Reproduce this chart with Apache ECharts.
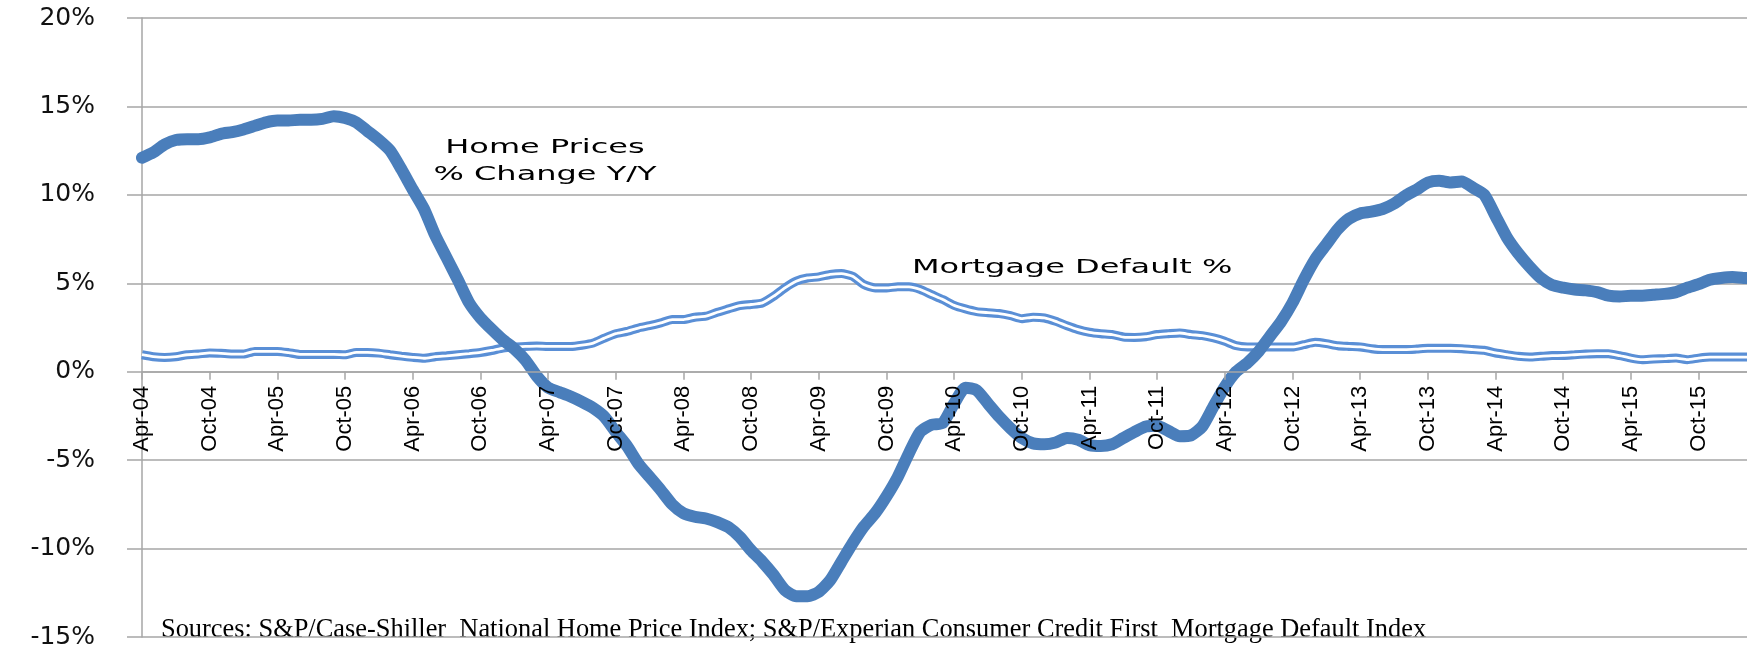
<!DOCTYPE html>
<html>
<head>
<meta charset="utf-8">
<script src="https://cdn.jsdelivr.net/npm/echarts@6/dist/echarts.min.js"></script>
<style>
  html, body { margin: 0; padding: 0; background: #fff; }
  #chart { width: 1747px; height: 647px; }
</style>
</head>
<body>
<div id="chart"></div>
<script>
// months Apr-04 .. Mar-16
const monthNames = ['Jan', 'Feb', 'Mar', 'Apr', 'May', 'Jun', 'Jul', 'Aug', 'Sep', 'Oct', 'Nov', 'Dec'];
const months = [];
for (let k = 0; k < 144; k++) {
  const mi = (3 + k) % 12;
  const yr = 4 + Math.floor((3 + k) / 12);
  months.push(monthNames[mi] + '-' + String(yr).padStart(2, '0'));
}

// Home prices, % change Y/Y
const homePrices = [
  12.1, 12.4, 12.85, 13.1, 13.15, 13.15, 13.25, 13.45, 13.55, 13.7,
  13.9, 14.1, 14.2, 14.2, 14.25, 14.25, 14.3, 14.45, 14.35, 14.1,
  13.6, 13.1, 12.5, 11.45, 10.3, 9.2, 7.7, 6.45, 5.2, 3.9,
  3.05, 2.4, 1.8, 1.3, 0.65, -0.25, -0.9, -1.15, -1.4, -1.7,
  -2.05, -2.55, -3.4, -4.2, -5.2, -5.95, -6.7, -7.5, -8.0, -8.2,
  -8.3, -8.5, -8.8, -9.35, -10.1, -10.75, -11.5, -12.35, -12.7, -12.7,
  -12.45, -11.8, -10.75, -9.7, -8.75, -8.0, -7.05, -5.95, -4.6, -3.4,
  -3.0, -2.9, -1.8, -0.9, -1.05, -1.8, -2.55, -3.2, -3.75, -4.05,
  -4.1, -4.0, -3.75, -3.85, -4.15, -4.2, -4.1, -3.75, -3.4, -3.1,
  -3.05, -3.35, -3.65, -3.6, -3.1, -1.95, -0.85, 0.0, 0.5, 1.15,
  2.0, 2.85, 3.9, 5.2, 6.35, 7.2, 8.05, 8.65, 8.95, 9.05,
  9.2, 9.5, 9.95, 10.3, 10.7, 10.8, 10.7, 10.75, 10.4, 10.0,
  8.8, 7.6, 6.7, 5.95, 5.3, 4.9, 4.75, 4.65, 4.6, 4.5,
  4.3, 4.25, 4.3, 4.3, 4.35, 4.4, 4.5, 4.75, 4.95, 5.2,
  5.3, 5.35, 5.3, 5.3
];

// Mortgage default %
const mortgageDefault = [
  0.96, 0.85, 0.81, 0.85, 0.96, 1.0, 1.06, 1.04, 1.0, 1.0,
  1.15, 1.15, 1.15, 1.08, 0.98, 0.98, 0.98, 0.98, 0.96, 1.09,
  1.09, 1.05, 0.96, 0.88, 0.81, 0.76, 0.85, 0.9, 0.96, 1.02,
  1.09, 1.2, 1.34, 1.4, 1.43, 1.45, 1.43, 1.43, 1.43, 1.5,
  1.62, 1.9, 2.15, 2.28, 2.47, 2.6, 2.76, 2.95, 2.95, 3.08,
  3.14, 3.36, 3.55, 3.74, 3.8, 3.89, 4.27, 4.74, 5.12, 5.3,
  5.36, 5.5, 5.55, 5.4, 4.93, 4.74, 4.74, 4.8, 4.8, 4.65,
  4.36, 4.08, 3.75, 3.55, 3.4, 3.34, 3.29, 3.17, 3.0, 3.08,
  3.04, 2.85, 2.6, 2.38, 2.23, 2.15, 2.1, 1.96, 1.94, 1.98,
  2.1, 2.15, 2.19, 2.1, 2.04, 1.91, 1.72, 1.47, 1.4, 1.4,
  1.4, 1.4, 1.4, 1.53, 1.66, 1.59, 1.47, 1.43, 1.4, 1.3,
  1.25, 1.25, 1.25, 1.28, 1.32, 1.32, 1.32, 1.3, 1.25, 1.21,
  1.06, 0.96, 0.87, 0.83, 0.87, 0.91, 0.92, 0.96, 1.0, 1.02,
  1.02, 0.91, 0.77, 0.68, 0.72, 0.74, 0.77, 0.68, 0.77, 0.83,
  0.83, 0.83, 0.83, 0.83
];

const sourceNote = 'Sources: S&P/Case-Shiller  National Home Price Index; S&P/Experian Consumer Credit First  Mortgage Default Index';

const gridGray = '#a6a6a6';
const yMin = -15, yMax = 20;
const gridTop = 18, gridBottom = 10, chartH = 647;
// x axis sits on the 0% line: shift it up from the bottom of the grid
const plotH = chartH - gridTop - gridBottom;
const zeroOffset = -plotH * (0 - yMin) / (yMax - yMin);

const chart = echarts.init(document.getElementById('chart'));

chart.setOption({
  animation: false,
  backgroundColor: '#fff',
  grid: { left: 142, right: -8, top: gridTop, bottom: gridBottom, containLabel: false, outerBoundsMode: 'none' },
  xAxis: {
    type: 'category',
    data: months,
    boundaryGap: false,
    position: 'bottom',
    offset: zeroOffset,
    z: 5,
    axisLine: { onZero: false, lineStyle: { color: gridGray, width: 1.5 } },
    axisTick: { show: true, interval: 5, length: 8, lineStyle: { color: gridGray, width: 1.5 } },
    axisLabel: {
      interval: 5,
      rotate: 90,
      margin: 14,
      color: '#000',
      fontSize: 22,
      fontFamily: "'Liberation Sans', sans-serif"
    },
    splitLine: { show: false }
  },
  yAxis: {
    type: 'value',
    min: yMin,
    max: yMax,
    interval: 5,
    axisLine: { show: true, lineStyle: { color: gridGray, width: 1.5 } },
    axisTick: { show: true, length: 15, lineStyle: { color: gridGray, width: 1.5 } },
    axisLabel: {
      formatter: '{value}%',
      margin: 47,
      color: '#111',
      fontSize: 25,
      fontFamily: "'DejaVu Sans', sans-serif"
    },
    splitLine: { show: true, lineStyle: { color: gridGray, width: 1.5 } }
  },
  series: [
    {
      name: 'Mortgage Default %',
      type: 'line',
      data: mortgageDefault,
      showSymbol: false,
      smooth: 0.2,
      z: 2,
      lineStyle: { color: '#5a8fd6', width: 9 }
    },
    {
      // white core that makes the double line
      name: 'Mortgage Default % core',
      type: 'line',
      data: mortgageDefault,
      showSymbol: false,
      smooth: 0.2,
      z: 3,
      lineStyle: { color: '#fff', width: 2.8 }
    },
    {
      name: 'Home Prices % Change Y/Y',
      type: 'line',
      data: homePrices,
      showSymbol: false,
      smooth: 0.2,
      z: 4,
      lineStyle: { color: '#4a7ebb', width: 12, cap: 'round', join: 'round' }
    }
  ],
  graphic: [
    {
      type: 'text',
      x: 545,
      y: 134,
      scaleX: 1.6,
      style: {
        text: 'Home Prices\n% Change Y/Y',
        align: 'center',
        verticalAlign: 'top',
        fill: '#000',
        font: "20px 'DejaVu Sans'",
        lineHeight: 27
      }
    },
    {
      type: 'text',
      x: 912,
      y: 268,
      scaleX: 1.6,
      style: {
        text: 'Mortgage Default %',
        align: 'left',
        verticalAlign: 'middle',
        fill: '#000',
        font: "20px 'DejaVu Sans'"
      }
    },
    {
      type: 'text',
      x: 161,
      y: 630,
      style: {
        text: sourceNote,
        align: 'left',
        verticalAlign: 'middle',
        fill: '#000',
        font: "26.4px 'Liberation Serif'"
      }
    }
  ]
});
</script>
</body>
</html>
